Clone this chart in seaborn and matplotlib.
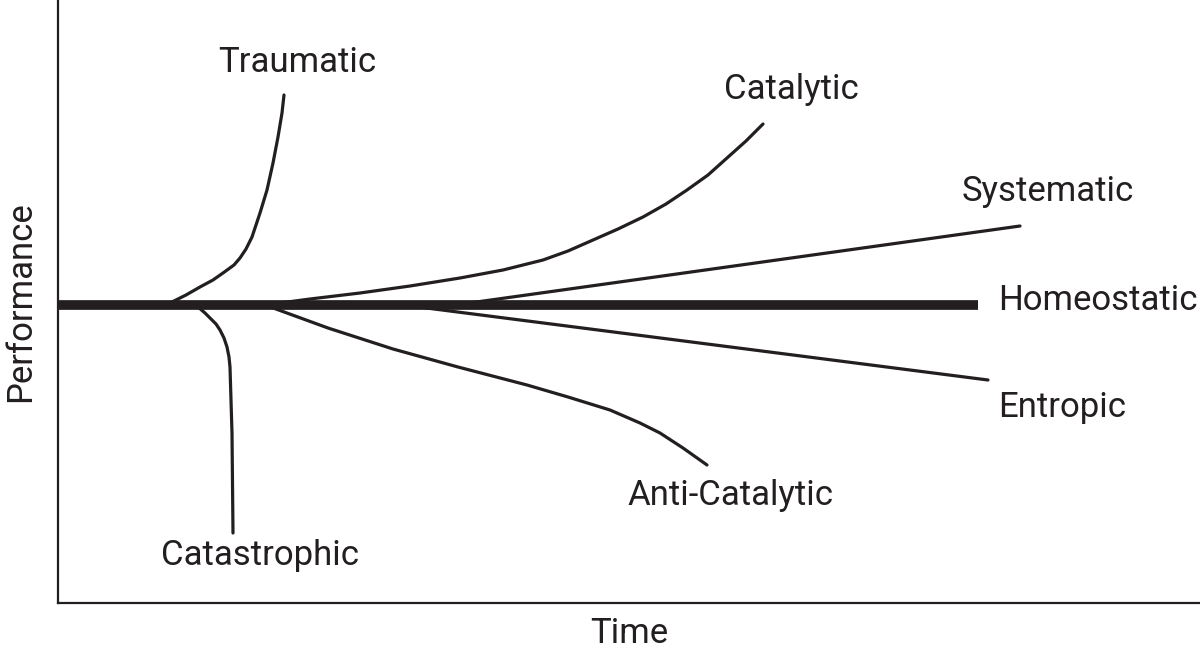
import pandas as pd
import seaborn as sns
from matplotlib import pyplot as plt

INK = '#231f20'

# points: time (px from y-axis), performance (px above baseline)
homeostatic_t = [0, 920]
homeostatic_p = [0, 0]

traumatic_t = [112, 128, 142, 155, 165, 176, 182, 188, 194, 202, 209, 215, 220, 224, 226]
traumatic_p = [2, 10, 18, 25, 32, 40, 47, 56, 68, 92, 115, 142, 168, 192, 210]

catastrophic_t = [140, 147, 152, 158, 162, 166, 169, 171, 172, 173, 174, 175]
catastrophic_p = [-2, -8, -13, -19, -25, -33, -42, -52, -62, -95, -128, -228]

catalytic_t = [207, 252, 302, 352, 402, 445, 485, 510, 535, 560, 585, 608, 629, 650, 669, 688, 705]
catalytic_p = [0, 6, 12, 19, 27, 35, 45, 54, 65, 76, 88, 101, 115, 130, 147, 164, 181]

systematic_t = [397, 962]
systematic_p = [0, 79]

entropic_t = [345, 930]
entropic_p = [0, -75]

anticatalytic_t = [207, 270, 335, 400, 469, 510, 552, 582, 602, 625, 649]
anticatalytic_p = [0, -23, -44, -62, -80, -92, -105, -118, -128, -143, -160]

curves = {
    'Traumatic': (traumatic_t, traumatic_p),
    'Catastrophic': (catastrophic_t, catastrophic_p),
    'Catalytic': (catalytic_t, catalytic_p),
    'Systematic': (systematic_t, systematic_p),
    'Entropic': (entropic_t, entropic_p),
    'Anti-Catalytic': (anticatalytic_t, anticatalytic_p),
}

frames = []
for name, (t, p) in curves.items():
    frames.append(pd.DataFrame({'curve': name, 'Time': t, 'Performance': p}))
df = pd.concat(frames, ignore_index=True)

base = pd.DataFrame({'Time': homeostatic_t, 'Performance': homeostatic_p})

sns.set_style('white')
plt.rcParams['font.family'] = ['Roboto', 'DejaVu Sans']

fig = plt.figure(figsize=(12, 6.5), dpi=100)
ax = fig.add_axes([58 / 1200, 47 / 650, 1142 / 1200, 603 / 650])

sns.lineplot(data=df, x='Time', y='Performance', units='curve', estimator=None,
             sort=False, color=INK, linewidth=2.3, ax=ax)
sns.lineplot(data=base, x='Time', y='Performance', estimator=None, sort=False,
             color=INK, linewidth=7, ax=ax, solid_capstyle='butt')

ax.set_xlim(0, 1142)
ax.set_ylim(-298, 305)

labels = [
    ('Traumatic', 239, 242, 'center'),
    ('Catalytic', 733, 215, 'center'),
    ('Systematic', 990, 113, 'center'),
    ('Homeostatic', 940, 5, 'left'),
    ('Entropic', 940, -103, 'left'),
    ('Anti-Catalytic', 672, -190, 'center'),
    ('Catastrophic', 202, -250, 'center'),
]
for text, x, y, ha in labels:
    ax.text(x, y, text, ha=ha, va='center', fontsize=25, color=INK)

ax.set_xticks([])
ax.set_yticks([])
ax.set_xlabel('Time', fontsize=25, color=INK, labelpad=10)
ax.set_ylabel('Performance', fontsize=25, color=INK, labelpad=15)
for side in ['top', 'right']:
    ax.spines[side].set_visible(False)
for side in ['left', 'bottom']:
    ax.spines[side].set_color(INK)
    ax.spines[side].set_linewidth(1.6)

fig.savefig('out.png', dpi=100)
